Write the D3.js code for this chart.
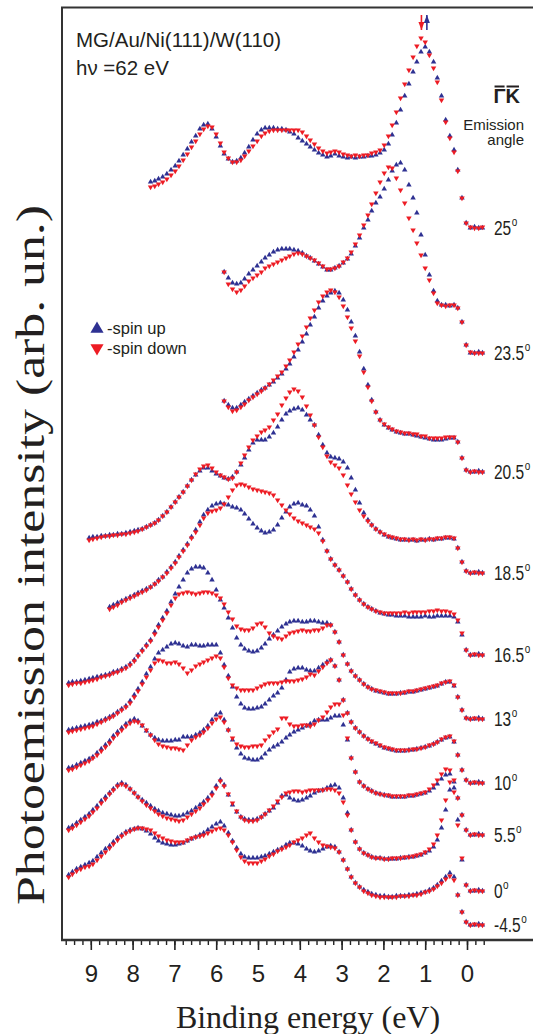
<!DOCTYPE html>
<html><head><meta charset="utf-8">
<script src="https://cdn.jsdelivr.net/npm/d3@7"></script>
<style>body{margin:0;background:#fff}svg{display:block}</style>
</head><body><svg id="chart" width="533" height="1034"></svg>
<script>
// Binding energy grid (eV), common to all spectra; each series is aligned to the END of this grid
const energies = [9.63,9.53,9.44,9.34,9.24,9.14,9.04,
8.95,8.85,8.75,8.65,8.55,8.46,8.36,8.26,8.16,8.06,
7.96,7.87,7.77,7.67,7.57,7.47,7.38,7.28,7.18,7.08,
6.98,6.89,6.79,6.69,6.59,6.49,6.39,6.30,6.20,6.10,
6.00,5.90,5.81,5.71,5.61,5.51,5.41,5.32,5.22,5.12,
5.02,4.92,4.83,4.73,4.63,4.53,4.43,4.33,4.24,4.14,
4.04,3.94,3.84,3.75,3.65,3.55,3.45,3.35,3.26,3.16,
3.06,2.96,2.86,2.77,2.67,2.57,2.47,2.37,2.28,2.18,
2.08,1.98,1.88,1.79,1.69,1.59,1.49,1.39,1.29,1.20,
1.10,1.00,0.90,0.80,0.71,0.61,0.51,0.41,0.31,0.22,
0.12,0.02,-0.08,-0.18,-0.28,-0.37];

const angleLabels = ["25","23.5","20.5","18.5","16.5","13","10","5.5","0","-4.5"];
const offsets = [712,587,468,367,285,221,157,105,49,15];

const up25 = [46,47,49,51,54,58, 62,67,73,79,86,92,99,103,104,99, 91,82,74,69,66,67,70,75,81,88, 94,98,100,100,100,99,99,98,96,94, 90,87,84,81,78,75,73,71,72,74, 72,71,70,71,70,71,71,72,72,73, 75,78,84,93,105,118,132,144,156,166, 176,181,176,166,150,132,108,92,78,58, 30,5,0,1,0,0];
const dn25 = [41,42,44,46,49,53, 57,62,68,74,81,87,94,99,102,101, 94,85,76,70,66,66,68,72,77,82, 87,92,95,97,98,98,98,98,98,98, 98,96,92,88,84,80,77,75,76,77, 76,74,73,72,73,72,73,73,75,76, 78,83,92,103,116,130,144,158,171,182, 190,186,173,160,146,128,106,90,76,57, 30,5,1,0,0,1];
const up235 = [81,75,70,69,70,74,79,83, 87,91,95,98,101,103,104,104,104,103, 102,100,97,95,92,89,86,83,83,85, 87,90,94,99,107,115,125,133,142,150, 156,164,173,182,188,190,183,168,155,140, 118,98,78,62,52,48,48,47,48,45, 31,8,0,0,1,0];
const dn235 = [81,69,64,61,63,67,72,75, 78,81,85,87,89,91,93,95,97,99, 100,99,97,95,93,90,87,84,84,85, 87,91,95,101,109,118,128,138,149,160, 171,180,186,185,175,163,150,135,123,110, 98,85,73,60,50,48,47,48,48,45, 31,8,1,0,0,0];
const up205 = [71,67,64,64,67,70,73,76, 79,82,84,87,90,94,98,103,108,115, 122,130,138,147,155,164,171,176,179,181, 179,172,162,150,136,120,103,87,72,60, 52,47,44,42,40,39,38,38,37,36, 35,34,33,32,32,32,33,34,34,30, 14,2,0,0,1,0];
const dn205 = [71,65,61,62,65,68,72,75, 78,81,84,88,92,96,100,106,112,120, 128,136,145,154,162,170,176,180,182,180, 175,166,155,144,131,116,100,85,71,60, 52,48,45,43,41,40,39,39,38,38, 36,36,34,34,34,34,35,35,35,30, 14,2,0,1,0,0];
const up185 = [35, 36,36,37,37,38,38,39,39,40,41, 42,43,44,46,48,50,53,57,61,66, 71,76,81,87,93,98,102,105,105,102, 99,97,95,94,96,101,108,115,123,130, 133,133,133,136,140,146,153,159,162,164, 165,163,158,153,148,138,128,120,116,115, 114,111,105,95,83,70,60,53,48,44, 41,38,36,35,34,33,33,33,33,32, 33,33,34,33,34,34,35,35,34,25, 11,2,0,0,1,0];
const dn185 = [33, 34,35,36,37,37,38,38,39,39,40, 41,42,44,46,48,50,53,57,61,66, 71,76,81,87,93,99,104,107,108,105, 101,98,96,94,95,101,110,118,126,133, 137,141,143,146,153,159,168,175,181,184, 182,176,167,158,148,136,126,117,111,108, 105,98,88,79,71,63,57,52,48,44, 41,39,37,36,35,34,34,33,34,33, 34,33,34,34,35,35,36,36,35,25, 11,2,0,1,0,0];
const up165 = [48,50,52,54,56,58, 60,62,64,66,68,71,75,78,83,88, 93,99,105,111,118,125,133,140,145,149, 151,152,151,150,148,147,145,141,136,131, 127,124,122,123,125,130,137,143,148,151, 152,150,149,145,139,128,115,104,96,90, 85,79,73,66,60,55,51,48,46,44, 42,41,40,40,39,39,39,38,38,38, 38,39,38,38,39,39,39,39,38,33, 20,5,0,0,1,0];
const dn165 = [46,48,50,53,55,57, 59,61,63,65,68,71,74,78,82,87, 92,98,104,110,117,123,130,137,142,144, 145,147,151,158,165,170,171,170,168,166, 165,164,163,162,160,155,150,145,141,137, 134,132,130,128,126,122,114,104,96,90, 85,79,73,66,60,55,51,48,46,44, 43,42,42,42,42,42,43,42,43,43, 43,43,44,44,45,44,44,43,41,35, 22,5,0,1,0,0];
const up13 = [36,37,37,38,39,40, 41,42,43,44,45,47,48,50,52,55, 59,64,69,74,79,87,94,101,108,117, 125,132,139,146,150,152,152,151,146,139, 129,119,111,101,91,81,74,70,68,67, 68,71,75,80,84,88,92,95,97,98, 98,97,97,98,98,97,96,96,94,87, 77,64,55,48,43,39,35,32,30,28, 27,26,25,25,25,26,26,27,27,28, 29,30,31,32,33,35,37,37,33,22, 9,1,0,0,1,0];
const dn13 = [34,35,36,36,37,38, 39,40,42,43,44,46,47,49,51,54, 58,63,68,73,78,85,92,99,106,114, 121,125,126,127,126,125,126,127,127,126, 124,121,115,107,100,93,90,89,89,91, 95,96,92,86,83,81,80,83,86,87, 88,89,88,88,89,89,91,94,94,87, 77,64,55,48,43,39,35,32,30,29, 28,27,26,26,26,26,27,28,28,29, 30,31,32,33,34,36,37,38,34,22, 9,1,0,1,0,0];
const up10 = [53,54,55,56,57,58, 59,61,62,64,66,68,71,74,77,82, 88,94,101,109,116,124,130,133,136,139, 140,139,137,136,138,138,137,137,138,138, 138,130,118,107,96,86,79,75,74,74, 75,76,79,83,87,90,95,103,111,114, 115,115,113,112,112,115,118,121,123,117, 103,83,70,61,55,51,47,44,41,39, 37,35,34,33,32,32,32,33,33,34, 35,36,37,39,41,43,45,46,41,28, 13,3,0,0,1,0];
const dn10 = [51,52,53,54,55,56, 57,59,61,63,65,67,70,73,76,80, 86,92,99,106,113,120,123,122,120,120, 121,119,115,110,113,117,119,121,123,125, 127,125,116,105,98,95,93,93,93,93, 95,97,99,100,100,100,101,102,102,102, 103,104,106,109,108,112,116,120,123,117, 103,83,70,61,55,51,47,44,42,40, 38,36,35,34,33,33,33,33,34,34, 35,36,38,39,41,44,46,47,42,28, 13,3,0,1,0,0];
const up55 = [67,68,70,72,74,76, 78,82,86,90,94,99,103,107,111,114, 116,114,109,104,100,97,95,94,94,94, 95,95,98,98,98,100,102,105,109,115, 120,122,115,105,95,87,81,77,76,75, 75,77,81,85,88,90,93,97,100,103, 105,107,109,111,114,115,115,115,117,119, 119,110,95,77,63,53,49,46,44,42, 41,40,39,38,38,38,38,39,39,40, 41,42,44,47,51,56,60,61,53,37, 20,5,0,0,1,0];
const dn55 = [65,66,68,70,72,74, 77,80,84,88,92,97,101,105,109,112, 114,113,110,105,100,95,91,89,88,87, 87,86,85,90,95,98,100,103,107,112, 116,118,113,105,97,91,89,88,88,89, 89,90,95,99,103,106,117,117,111,109, 109,110,110,109,111,115,118,123,128,131, 131,120,97,77,63,53,49,46,44,42, 41,40,40,39,39,39,39,40,40,41, 42,43,46,50,55,61,66,65,55,37, 20,5,0,1,0,0];
const up0 = [63,65,68,71,74,77, 81,85,90,94,98,102,106,108,106,102, 98,94,91,88,85,82,80,78,77,76, 75,75,76,78,80,83,86,89,93,98, 105,111,106,96,86,79,74,72,71,71, 72,74,77,80,83,88,95,96,93,91, 90,91,93,95,98,100,101,103,105,106, 103,93,78,61,49,42,38,36,34,33, 33,32,32,32,32,33,33,34,34,35, 36,38,40,44,51,63,81,101,103,71, 31,6,0,0,1,0];
const dn0 = [61,63,66,69,72,75, 79,83,88,92,97,101,105,107,105,102, 98,94,90,86,83,80,77,75,73,72, 71,70,71,74,77,80,83,87,91,96, 103,110,105,97,88,80,74,71,70,70, 71,74,77,81,85,90,94,98,99,100, 100,99,100,101,101,101,101,102,102,101, 98,89,76,61,49,42,38,36,34,33, 33,32,32,33,33,33,34,34,35,36, 37,39,42,47,56,71,91,109,99,66, 33,6,0,1,0,0];
const upM45 = [50,53,56,58,60,62, 64,68,72,76,79,83,87,90,93,95, 96,97,96,94,91,87,84,82,81,80, 80,81,82,84,86,88,90,92,95,98, 101,103,99,92,84,77,71,68,67,67, 67,68,69,71,73,75,77,80,82,82, 81,79,76,74,73,74,76,78,79,78, 73,65,56,48,42,38,35,33,31,30, 29,29,28,28,29,29,29,30,30,31, 32,33,35,37,40,44,48,52,48,30, 13,3,0,0,1,0];
const dnM45 = [48,51,54,56,58,59, 61,65,69,73,77,81,85,89,92,94, 96,97,97,96,95,92,89,87,85,84, 83,83,83,85,87,88,89,90,92,94, 96,97,95,90,83,75,68,64,62,62, 62,64,66,69,71,74,76,78,80,83, 85,87,90,92,87,83,80,79,78,77, 73,65,56,48,42,38,34,32,30,29, 28,28,28,28,28,29,29,29,30,30, 31,33,34,36,39,42,46,49,45,30, 13,3,0,1,0,0];

const spinUpSeries = [up25, up235, up205, up185, up165, up13, up10, up55, up0, upM45];
const spinDownSeries = [dn25, dn235, dn205, dn185, dn165, dn13, dn10, dn55, dn0, dnM45];

const majorTicks = [9,8,7,6,5,4,3,2,1,0];
const tickLabels = ["9","8","7","6","5","4","3","2","1","0"];
const arrowEnergies = [1.09, 0.96]; // spin-down, spin-up peak markers (25°)

const blue = "#2E3192", red = "#ED1C24", ink = "#231F20";
const sans = "'Liberation Sans', Arial, sans-serif";
const serif = "'Liberation Serif', 'Times New Roman', serif";

const svg = d3.select("#chart");
const x = d3.scaleLinear().domain([9, 0]).range([90.8, 467]);
const y = d3.scaleLinear().domain([0, 932]).range([940, 8]);

// frame
const frame = svg.append("g").attr("stroke", "#333").attr("stroke-width", 2).attr("fill", "none");
frame.append("line").attr("x1", 62).attr("x2", 62).attr("y1", 7).attr("y2", 940);
frame.append("line").attr("x1", 61).attr("x2", 533).attr("y1", 7.5).attr("y2", 7.5);

// axes
const minorTicks = d3.range(-2, 49).map(k => +(k * 0.2).toFixed(1));
const minorAxis = svg.append("g").attr("transform", "translate(0,940)")
  .call(d3.axisBottom(x).tickValues(minorTicks).tickSize(5).tickFormat(""));
minorAxis.select(".domain").remove();
minorAxis.selectAll("line").attr("stroke", "#222").attr("stroke-width", 1.4);
const majorAxis = svg.append("g").attr("transform", "translate(0,940)")
  .call(d3.axisBottom(x).tickValues(majorTicks).tickSize(10).tickPadding(15)
    .tickFormat((d, i) => tickLabels[i]));
majorAxis.select(".domain").remove();
majorAxis.selectAll("line").attr("stroke", "#222").attr("stroke-width", 1.6);
majorAxis.selectAll("text").attr("font-family", sans).attr("font-size", 24).attr("fill", ink);
svg.append("line").attr("x1", 61).attr("x2", 533).attr("y1", 940).attr("y2", 940)
  .attr("stroke", "#333").attr("stroke-width", 2.4);

// spectra
const tri = d3.symbol().type(d3.symbolTriangle).size(13);
function pts(arr, off) {
  const s = energies.length - arr.length;
  return arr.map((v, i) => ({ e: energies[s + i], v: v + off }));
}
const gData = svg.append("g");
angleLabels.forEach((lab, k) => {
  const g = gData.append("g");
  g.selectAll("path.up").data(pts(spinUpSeries[k], offsets[k])).join("path")
    .attr("class", "up").attr("d", tri).attr("fill", blue)
    .attr("transform", d => `translate(${x(d.e)},${y(d.v)})`);
  g.selectAll("path.dn").data(pts(spinDownSeries[k], offsets[k])).join("path")
    .attr("class", "dn").attr("d", tri).attr("fill", red)
    .attr("transform", d => `translate(${x(d.e)},${y(d.v)}) rotate(180)`);
});

// angle labels
angleLabels.forEach((lab, k) => {
  const t = svg.append("text")
    .attr("transform", `translate(494,${y(offsets[k]) + 7}) scale(1,1.25)`)
    .attr("font-family", sans).attr("font-size", 15.5).attr("fill", ink);
  t.append("tspan").text(lab);
  t.append("tspan").attr("font-size", 10).attr("dy", -7).attr("dx", 0.5).text("o");
});

// arrows at the top
const arrowY0 = 15, arrowY1 = 30;
[[arrowEnergies[0], red, "down"], [arrowEnergies[1], blue, "up"]].forEach(([e, c, dir]) => {
  const ax = x(e);
  svg.append("line").attr("x1", ax).attr("x2", ax).attr("y1", arrowY0).attr("y2", arrowY1)
    .attr("stroke", c).attr("stroke-width", 1.6);
  const tip = dir === "down" ? arrowY1 : arrowY0;
  const base = dir === "down" ? arrowY1 - 8 : arrowY0 + 8;
  svg.append("path").attr("d", `M${ax - 3},${base}L${ax + 3},${base}L${ax},${tip}Z`).attr("fill", c);
});

// header texts
svg.append("text").attr("x", 76).attr("y", 47).attr("font-family", sans).attr("font-size", 20.5)
  .attr("fill", ink).text("MG/Au/Ni(111)/W(110)");
svg.append("text").attr("x", 76).attr("y", 75).attr("font-family", sans).attr("font-size", 20.5)
  .attr("fill", ink).text("hν =62 eV");

// Gamma-bar K-bar
const gk = svg.append("text").attr("x", 520).attr("y", 103).attr("text-anchor", "end")
  .attr("font-family", sans).attr("font-size", 20).attr("font-weight", "bold").attr("fill", ink).text("ΓK");
const gkn = gk.node();
for (let i = 0; i < 2; i++) {
  const b = gkn.getExtentOfChar(i);
  svg.append("line").attr("x1", b.x + 1).attr("x2", b.x + b.width - 1)
    .attr("y1", b.y + 1.5).attr("y2", b.y + 1.5).attr("stroke", ink).attr("stroke-width", 2);
}
svg.append("text").attr("x", 524).attr("y", 130).attr("text-anchor", "end")
  .attr("font-family", sans).attr("font-size", 15).attr("fill", ink).text("Emission");
svg.append("text").attr("x", 524).attr("y", 145).attr("text-anchor", "end")
  .attr("font-family", sans).attr("font-size", 15).attr("fill", ink).text("angle");

// legend
const legTri = d3.symbol().type(d3.symbolTriangle).size(75);
svg.append("path").attr("d", legTri).attr("fill", blue).attr("transform", "translate(97,329)");
svg.append("path").attr("d", legTri).attr("fill", red).attr("transform", "translate(97,348) rotate(180)");
svg.append("text").attr("x", 107).attr("y", 334).attr("font-family", sans).attr("font-size", 16.5)
  .attr("fill", ink).text("-spin up");
svg.append("text").attr("x", 107).attr("y", 354).attr("font-family", sans).attr("font-size", 16.5)
  .attr("fill", ink).text("-spin down");

// axis titles
svg.append("text").attr("x", 308).attr("y", 1028).attr("text-anchor", "middle")
  .attr("font-family", serif).attr("font-size", 32).attr("fill", ink).text("Binding energy (eV)");
svg.append("text").attr("transform", "translate(44,555) rotate(-90)").attr("text-anchor", "middle")
  .attr("font-family", serif).attr("font-size", 40).attr("fill", ink)
  .attr("textLength", 700).attr("lengthAdjust", "spacingAndGlyphs")
  .text("Photoemission intensity (arb. un.)");
</script></body></html>
